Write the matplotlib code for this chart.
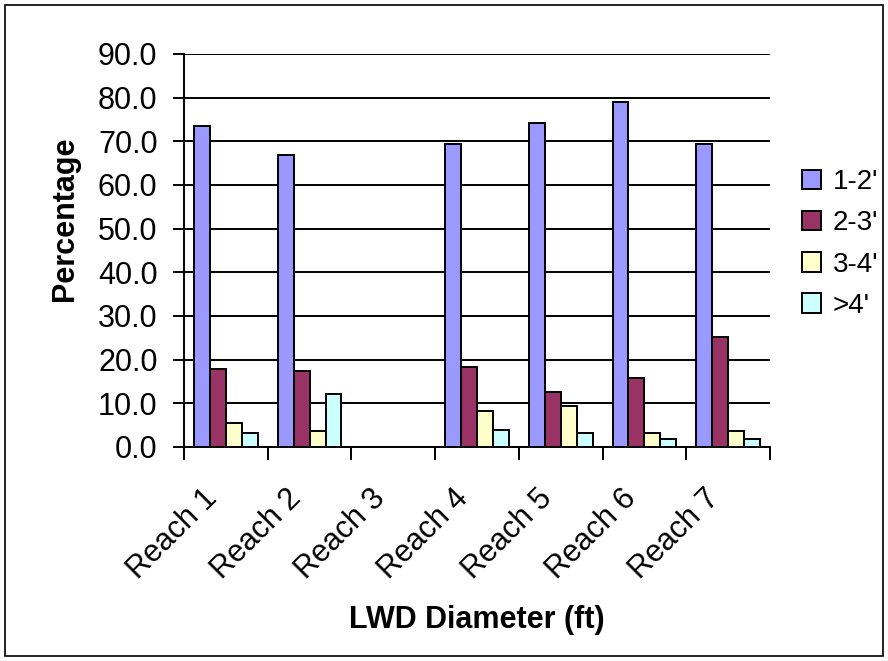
import numpy as np
import matplotlib.pyplot as plt
from matplotlib.patches import Rectangle

reaches = ["Reach 1", "Reach 2", "Reach 3", "Reach 4", "Reach 5", "Reach 6", "Reach 7"]
d_1_2 = [73.6, 66.8, 0.0, 69.4, 74.1, 79.0, 69.4]
d_2_3 = [17.8, 17.3, 0.0, 18.3, 12.7, 15.9, 25.2]
d_3_4 = [5.5, 3.6, 0.0, 8.2, 9.5, 3.1, 3.6]
d_4_up = [3.2, 12.2, 0.0, 4.0, 3.1, 1.8, 1.8]

series = [("1-2'", d_1_2, "#9999FF"),
          ("2-3'", d_2_3, "#993366"),
          ("3-4'", d_3_4, "#FFFFCC"),
          (">4'", d_4_up, "#CCFFFF")]

plt.rcParams["font.family"] = ["Liberation Sans", "DejaVu Sans"]
W, H = 888, 661

fig = plt.figure(figsize=(W / 100, H / 100), dpi=100)
ax = fig.add_axes([184 / W, 1 - 447 / H, (770 - 184) / W, (447 - 54) / H])

x = np.arange(len(reaches))
w = 1 / 5.25
for i, (name, vals, col) in enumerate(series):
    ax.bar(x - 2 * w + (i + 0.5) * w, vals, w, color=col, edgecolor="black",
           linewidth=1.4, label=name, zorder=3)

ax.set_xlim(-0.5, len(reaches) - 0.5)
ax.set_ylim(0, 90)
ax.set_yticks(np.arange(0, 91, 10))
ax.set_yticklabels([f"{v:.1f}" for v in np.arange(0, 91, 10)], fontsize=22)
ax.yaxis.grid(True, color="black", linewidth=1.4, zorder=0)
ax.set_axisbelow(True)

# category ticks sit between groups; slanted names drawn as annotations
ax.set_xticks(np.arange(-0.5, len(reaches), 1))
ax.set_xticklabels([])
ax.tick_params(axis="x", length=9, width=1.4, direction="out")
ax.tick_params(axis="y", length=8, width=1.4, direction="out", pad=11)
for i, r in enumerate(reaches):
    ax.annotate(r, xy=(i, 0), xycoords=("data", "axes fraction"),
                xytext=(-9.4, -34), textcoords="offset points",
                rotation=45, rotation_mode="anchor", ha="right", va="center",
                fontsize=22)

for s in ["top", "right"]:
    ax.spines[s].set_visible(False)
for s in ["left", "bottom"]:
    ax.spines[s].set_linewidth(1.4)

fig.text(73 / W, 1 - 219 / H, "Percentage", fontsize=22, fontweight="bold",
         rotation=90, rotation_mode="anchor", ha="center", va="baseline")
fig.text(477 / W, 1 - 628 / H, "LWD Diameter (ft)", fontsize=22, fontweight="bold",
         ha="center", va="baseline")

ax.legend(loc="center left", bbox_to_anchor=(802 / W, 1 - 244 / H),
          bbox_transform=fig.transFigure, frameon=False, fontsize=20,
          borderpad=0, borderaxespad=0, handlelength=0.7, handleheight=0.7,
          handletextpad=0.4, labelspacing=0.55)

fig.patches.append(Rectangle((5 / W, 5 / H), 1 - 10 / W, 1 - 10 / H,
                             transform=fig.transFigure, fill=False,
                             edgecolor="black", linewidth=1.2))

fig.savefig("out.png", dpi=100)
